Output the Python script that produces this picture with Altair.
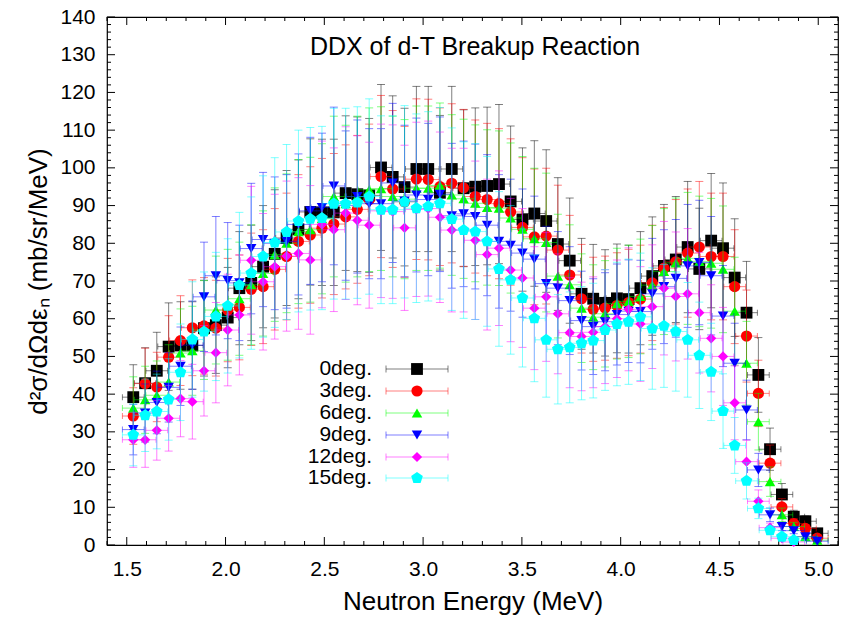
import altair as alt
import pandas as pd

# Neutron energy grid (MeV), shared by all angles
energy = [1.533, 1.593, 1.652, 1.712, 1.772, 1.832, 1.891, 1.951, 2.011, 2.070,
          2.130, 2.190, 2.249, 2.309, 2.369, 2.429, 2.488, 2.548, 2.608, 2.667,
          2.727, 2.787, 2.846, 2.906, 2.966, 3.026, 3.085, 3.145, 3.205, 3.264,
          3.324, 3.384, 3.443, 3.503, 3.563, 3.623, 3.682, 3.742, 3.802, 3.861,
          3.921, 3.981, 4.040, 4.100, 4.160, 4.219, 4.279, 4.339, 4.398, 4.458,
          4.518, 4.577, 4.637, 4.697, 4.756, 4.816, 4.876, 4.935, 4.995]

# DDX values (mb/sr/MeV) and their uncertainties
deg0 = [39.2, 42.9, 46.2, 52.6, 52.9, 52.9, 57.5, 58.3, 60.3, 68.1,
        69.5, 73.8, 77.2, 81.4, 83.7, 88.3, 88.2, 88.2, 93.3, 93.0,
        92.7, 100.1, 97.6, 94.9, 99.7, 99.7, 93.4, 99.7, 94.6, 95.0,
        95.2, 95.7, 91.1, 86.3, 87.9, 85.9, 79.8, 75.4, 66.6, 65.3,
        64.2, 65.4, 65.2, 68.1, 71.3, 74.0, 75.7, 79.0, 73.2, 80.7,
        78.7, 70.9, 61.6, 45.1, 25.4, 13.4, 7.5, 6.3, 3.1]
err0 = [8.6, 9.4, 10.2, 11.6, 11.6, 11.6, 12.7, 12.8, 13.3, 15.0,
        15.3, 16.2, 17.0, 17.9, 18.4, 19.4, 19.4, 19.4, 20.5, 20.5,
        20.4, 22.0, 21.5, 20.9, 21.9, 21.9, 20.5, 21.9, 20.8, 20.9,
        20.9, 21.1, 20.0, 19.0, 19.3, 18.9, 17.6, 16.6, 14.7, 14.4,
        14.1, 14.4, 14.3, 15.0, 15.7, 16.3, 16.7, 17.4, 16.1, 17.8,
        17.3, 15.6, 13.6, 9.9, 5.6, 2.9, 1.7, 1.4, 0.7]

deg3 = [34.2, 42.8, 41.9, 49.8, 54.2, 57.6, 58.1, 57.5, 62.3, 63.0,
        67.8, 68.5, 73.1, 76.5, 80.5, 82.2, 84.0, 85.1, 87.0, 89.0,
        91.5, 97.7, 94.4, 91.0, 97.0, 96.9, 95.0, 95.9, 94.7, 92.4,
        91.6, 90.5, 88.3, 84.2, 81.7, 81.9, 78.2, 71.6, 65.3, 62.5,
        62.8, 63.5, 64.3, 65.2, 69.5, 73.4, 75.1, 77.4, 79.0, 76.5,
        76.5, 68.5, 55.4, 40.2, 21.7, 10.1, 5.7, 4.4, 1.8]
err3 = [7.5, 9.4, 9.2, 11.0, 11.9, 12.7, 12.8, 12.7, 13.7, 13.9,
        14.9, 15.1, 16.1, 16.8, 17.7, 18.1, 18.5, 18.7, 19.1, 19.6,
        20.1, 21.5, 20.8, 20.0, 21.3, 21.3, 20.9, 21.1, 20.8, 20.3,
        20.2, 19.9, 19.4, 18.5, 18.0, 18.0, 17.2, 15.8, 14.4, 13.8,
        13.8, 14.0, 14.1, 14.3, 15.3, 16.1, 16.5, 17.0, 17.4, 16.8,
        16.8, 15.1, 12.2, 8.8, 4.8, 2.2, 1.3, 1.0, 0.4]

deg6 = [36.3, 38.5, 39.7, 43.2, 50.9, 51.5, 57.0, 62.3, 63.7, 65.3,
        69.0, 72.0, 77.0, 80.0, 83.1, 83.6, 86.5, 92.4, 90.5, 92.4,
        94.2, 94.5, 92.4, 91.7, 94.6, 94.6, 95.3, 92.8, 91.8, 90.6,
        89.5, 89.3, 86.7, 83.7, 81.2, 80.2, 71.3, 69.0, 62.8, 60.4,
        61.3, 64.0, 64.6, 65.9, 68.9, 72.5, 74.8, 76.0, 75.2, 74.7,
        73.1, 62.0, 48.2, 32.7, 16.8, 8.0, 4.9, 2.2, 1.3]
err6 = [8.3, 8.9, 9.1, 9.9, 11.7, 11.8, 13.1, 14.3, 14.7, 15.0,
        15.9, 16.6, 17.7, 18.4, 19.1, 19.2, 19.9, 21.3, 20.8, 21.3,
        21.7, 21.7, 21.3, 21.1, 21.8, 21.8, 21.9, 21.3, 21.1, 20.8,
        20.6, 20.5, 19.9, 19.3, 18.7, 18.4, 16.4, 15.9, 14.4, 13.9,
        14.1, 14.7, 14.9, 15.2, 15.8, 16.7, 17.2, 17.5, 17.3, 17.2,
        16.8, 14.3, 11.1, 7.5, 3.9, 1.8, 1.1, 0.5, 0.3]

deg9 = [30.6, 35.0, 37.8, 41.8, 47.4, 53.0, 65.8, 71.4, 70.1, 69.5,
        78.6, 81.0, 80.0, 80.5, 85.0, 88.6, 89.5, 95.2, 90.0, 92.4,
        90.5, 90.5, 96.0, 91.2, 92.8, 91.6, 93.0, 87.3, 87.8, 87.1,
        84.8, 80.5, 79.5, 77.4, 75.8, 69.3, 68.1, 64.8, 59.5, 57.9,
        59.2, 61.1, 62.0, 61.9, 66.6, 68.5, 70.7, 74.0, 74.9, 71.4,
        60.7, 48.2, 35.8, 19.9, 8.0, 4.9, 3.8, 2.2, 1.0]
err9 = [6.7, 7.7, 8.3, 9.2, 10.4, 11.7, 14.5, 15.7, 15.4, 15.3,
        17.3, 17.8, 17.6, 17.7, 18.7, 19.5, 19.7, 20.9, 19.8, 20.3,
        19.9, 19.9, 21.1, 20.1, 20.4, 20.2, 20.5, 19.2, 19.3, 19.2,
        18.7, 17.7, 17.5, 17.0, 16.7, 15.2, 15.0, 14.3, 13.1, 12.7,
        13.0, 13.4, 13.6, 13.6, 14.7, 15.1, 15.6, 16.3, 16.5, 15.7,
        13.4, 10.6, 7.9, 4.4, 1.8, 1.1, 0.8, 0.5, 0.2]

deg12 = [27.9, 27.9, 30.4, 33.6, 38.8, 38.0, 46.2, 51.0, 57.0, 61.0,
         75.5, 69.8, 73.8, 76.6, 77.3, 75.6, 85.0, 83.6, 88.0, 86.1,
         84.8, 88.6, 88.4, 84.1, 89.0, 89.2, 86.9, 83.5, 83.5, 80.8,
         77.0, 78.7, 72.9, 70.8, 62.8, 65.8, 61.3, 56.3, 55.3, 56.4,
         57.9, 60.0, 62.5, 58.6, 63.2, 68.1, 65.9, 66.6, 61.6, 54.8,
         50.0, 37.7, 22.1, 11.6, 4.6, 1.8, 0.8]
err12 = [7.3, 7.3, 7.9, 8.7, 10.1, 9.9, 12.0, 13.3, 14.8, 15.9,
         19.6, 18.1, 19.2, 19.9, 20.1, 19.7, 22.1, 21.7, 22.9, 22.4,
         22.0, 23.0, 23.0, 21.9, 23.1, 23.2, 22.6, 21.7, 21.7, 21.0,
         20.0, 20.5, 19.0, 18.4, 16.3, 17.1, 15.9, 14.6, 14.4, 14.7,
         15.1, 15.6, 16.3, 15.2, 16.4, 17.7, 17.1, 17.3, 16.0, 14.2,
         13.0, 9.8, 5.7, 3.0, 1.2, 0.5, 0.2]

deg15 = [29.2, 34.4, 35.4, 38.6, 45.8, 54.5, 56.6, 60.6, 63.4, 68.9,
         72.1, 76.5, 80.2, 83.0, 85.9, 86.5, 86.7, 90.5, 90.5, 90.8,
         92.4, 88.9, 88.9, 91.0, 89.3, 89.8, 90.6, 86.4, 83.5, 83.1,
         80.5, 73.2, 70.3, 65.5, 60.1, 54.4, 51.9, 52.4, 53.5, 54.2,
         57.0, 58.6, 59.2, 60.5, 57.4, 58.1, 56.6, 54.4, 50.3, 45.9,
         35.5, 26.4, 17.0, 9.7, 3.9, 2.2, 1.3]
err15 = [8.2, 9.6, 9.9, 10.8, 12.8, 15.3, 15.8, 17.0, 17.8, 19.3,
         20.2, 21.4, 22.5, 23.2, 24.1, 24.2, 24.3, 25.3, 25.3, 25.4,
         25.9, 24.9, 24.9, 25.5, 25.0, 25.1, 25.4, 24.2, 23.4, 23.3,
         22.5, 20.5, 19.7, 18.3, 16.8, 15.2, 14.5, 14.7, 15.0, 15.2,
         16.0, 16.4, 16.6, 16.9, 16.1, 16.3, 15.8, 15.2, 14.1, 12.9,
         9.9, 7.4, 4.8, 2.7, 1.1, 0.6, 0.4]

# Energy bin half-width (MeV)
X_HALF = 0.055

labels = ["0deg.", "3deg.", "6deg.", "9deg.", "12deg.", "15deg."]
values = [deg0, deg3, deg6, deg9, deg12, deg15]
errors = [err0, err3, err6, err9, err12, err15]
colors = ["#000000", "#ff0000", "#00ff00", "#0000ff", "#ff00ff", "#00ffff"]
PENTAGON = "M0,-1L0.951,-0.309L0.588,0.809L-0.588,0.809L-0.951,-0.309Z"
shapes = ["square", "circle", "triangle-up", "triangle-down", "diamond", PENTAGON]
sizes = [140, 125, 110, 110, 105, 150]

x_major = [1.5, 2.0, 2.5, 3.0, 3.5, 4.0, 4.5, 5.0]
x_minor = [1.4, 1.6, 1.7, 1.8, 1.9, 2.1, 2.2, 2.3, 2.4, 2.6, 2.7, 2.8, 2.9,
           3.1, 3.2, 3.3, 3.4, 3.6, 3.7, 3.8, 3.9, 4.1, 4.2, 4.3, 4.4,
           4.6, 4.7, 4.8, 4.9, 5.1]
y_major = [0, 10, 20, 30, 40, 50, 60, 70, 80, 90, 100, 110, 120, 130, 140]
y_minor = [v for v in range(0, 141, 2) if v % 10]

W, H = 731, 528
FONT = "Liberation Sans"
BAR_OPACITY = 0.5

xs = alt.Scale(domain=[1.4, 5.1], nice=False, zero=False)
ys = alt.Scale(domain=[0, 140], nice=False, zero=False)

x_axis = alt.Axis(values=x_major, format=".1f", title="Neutron Energy (MeV)",
                  domain=False, ticks=False, grid=False,
                  labelFont=FONT, labelFontSize=21, labelColor="black", labelPadding=13,
                  titleFont=FONT, titleFontSize=26, titleFontWeight="normal",
                  titleColor="black", titlePadding=9)
y_axis = alt.Axis(values=y_major, format="d", title="d²σ/dΩdεₙ (mb/sr/MeV)",
                  domain=False, ticks=False, grid=False,
                  labelFont=FONT, labelFontSize=21, labelColor="black", labelPadding=12,
                  titleFont=FONT, titleFontSize=26, titleFontWeight="normal",
                  titleColor="black", titlePadding=8)


def X(field):
    return alt.X(field, scale=xs, axis=x_axis)


def Y(field):
    return alt.Y(field, scale=ys, axis=y_axis)


layers = []

# inward tick marks on all four sides of the frame
xmaj = pd.DataFrame({"t": x_major})
xmin = pd.DataFrame({"t": x_minor})
ymaj = pd.DataFrame({"t": y_major})
ymin = pd.DataFrame({"t": y_minor})
tick = dict(color="black", strokeWidth=1)
layers.append(alt.Chart(xmaj).mark_rule(**tick).encode(x=X("t:Q"), y=alt.value(H), y2=alt.value(H - 8)))
layers.append(alt.Chart(xmaj).mark_rule(**tick).encode(x=X("t:Q"), y=alt.value(0), y2=alt.value(8)))
layers.append(alt.Chart(xmin).mark_rule(**tick).encode(x=X("t:Q"), y=alt.value(H), y2=alt.value(H - 4)))
layers.append(alt.Chart(xmin).mark_rule(**tick).encode(x=X("t:Q"), y=alt.value(0), y2=alt.value(4)))
layers.append(alt.Chart(ymaj).mark_rule(**tick).encode(y=Y("t:Q"), x=alt.value(0), x2=alt.value(8)))
layers.append(alt.Chart(ymaj).mark_rule(**tick).encode(y=Y("t:Q"), x=alt.value(W), x2=alt.value(W - 8)))
layers.append(alt.Chart(ymin).mark_rule(**tick).encode(y=Y("t:Q"), x=alt.value(0), x2=alt.value(4)))
layers.append(alt.Chart(ymin).mark_rule(**tick).encode(y=Y("t:Q"), x=alt.value(W), x2=alt.value(W - 4)))

# each angle: error bars first, then its markers on top
for k, lab in enumerate(labels):
    vals, errs = values[k], errors[k]
    n = len(vals)
    df = pd.DataFrame({
        "E": energy[:n],
        "v": vals,
        "lo": [v - e for v, e in zip(vals, errs)],
        "hi": [v + e for v, e in zip(vals, errs)],
        "xlo": [e - X_HALF for e in energy[:n]],
        "xhi": [e + X_HALF for e in energy[:n]],
    })
    col = colors[k]
    base = alt.Chart(df)
    bar = dict(color=col, opacity=BAR_OPACITY, strokeWidth=1)
    layers.append(base.mark_rule(**bar).encode(x=X("E:Q"), y=Y("lo:Q"), y2="hi:Q"))
    layers.append(base.mark_rule(**bar).encode(x=X("xlo:Q"), x2="xhi:Q", y=Y("v:Q")))
    cap_h = dict(orient="horizontal", size=8, thickness=1, color=col, opacity=BAR_OPACITY)
    cap_v = dict(orient="vertical", size=6, thickness=1, color=col, opacity=BAR_OPACITY)
    layers.append(base.mark_tick(**cap_h).encode(x=X("E:Q"), y=Y("lo:Q")))
    layers.append(base.mark_tick(**cap_h).encode(x=X("E:Q"), y=Y("hi:Q")))
    layers.append(base.mark_tick(**cap_v).encode(x=X("xlo:Q"), y=Y("v:Q")))
    layers.append(base.mark_tick(**cap_v).encode(x=X("xhi:Q"), y=Y("v:Q")))
    layers.append(base.mark_point(shape=shapes[k], size=sizes[k], filled=True,
                                  color=col, opacity=1, strokeWidth=0)
                  .encode(x=X("E:Q"), y=Y("v:Q")))

# key, drawn inside the plot in the gnuplot style
KEY_TEXT_X, KEY_L, KEY_R, KEY_MID = 265, 279, 341, 310
key_rows = [352, 374, 396, 418, 440, 461]
for k, lab in enumerate(labels):
    ky = key_rows[k]
    one = alt.Chart(pd.DataFrame({"label": [lab]}))
    col = colors[k]
    layers.append(one.mark_text(align="right", baseline="middle", font=FONT,
                                fontSize=21, color="black")
                  .encode(x=alt.value(KEY_TEXT_X), y=alt.value(ky), text="label:N"))
    layers.append(one.mark_rule(color=col, opacity=BAR_OPACITY, strokeWidth=1)
                  .encode(x=alt.value(KEY_L), x2=alt.value(KEY_R), y=alt.value(ky)))
    for cx in (KEY_L, KEY_R):
        layers.append(one.mark_rule(color=col, opacity=BAR_OPACITY, strokeWidth=1)
                      .encode(x=alt.value(cx), y=alt.value(ky - 3.5), y2=alt.value(ky + 3.5)))
    layers.append(one.mark_point(shape=shapes[k], size=sizes[k], filled=True,
                                 color=col, opacity=1, strokeWidth=0)
                  .encode(x=alt.value(KEY_MID), y=alt.value(ky)))

# plot title inside the frame
layers.append(alt.Chart(pd.DataFrame({"t": ["DDX of d-T Breakup Reaction"]}))
              .mark_text(align="center", baseline="middle", font=FONT, fontSize=25, color="black")
              .encode(x=alt.value(368), y=alt.value(30), text="t:N"))

chart = (
    alt.layer(*layers)
    .properties(width=W, height=H,
                autosize=alt.AutoSizeParams(type="none"),
                padding={"left": 107, "top": 17, "right": 9, "bottom": 75})
    .configure(background="white")
    .configure_view(stroke="black", strokeWidth=1.2)
)

chart.save("out.html", embed_options={"renderer": "svg", "actions": False})
